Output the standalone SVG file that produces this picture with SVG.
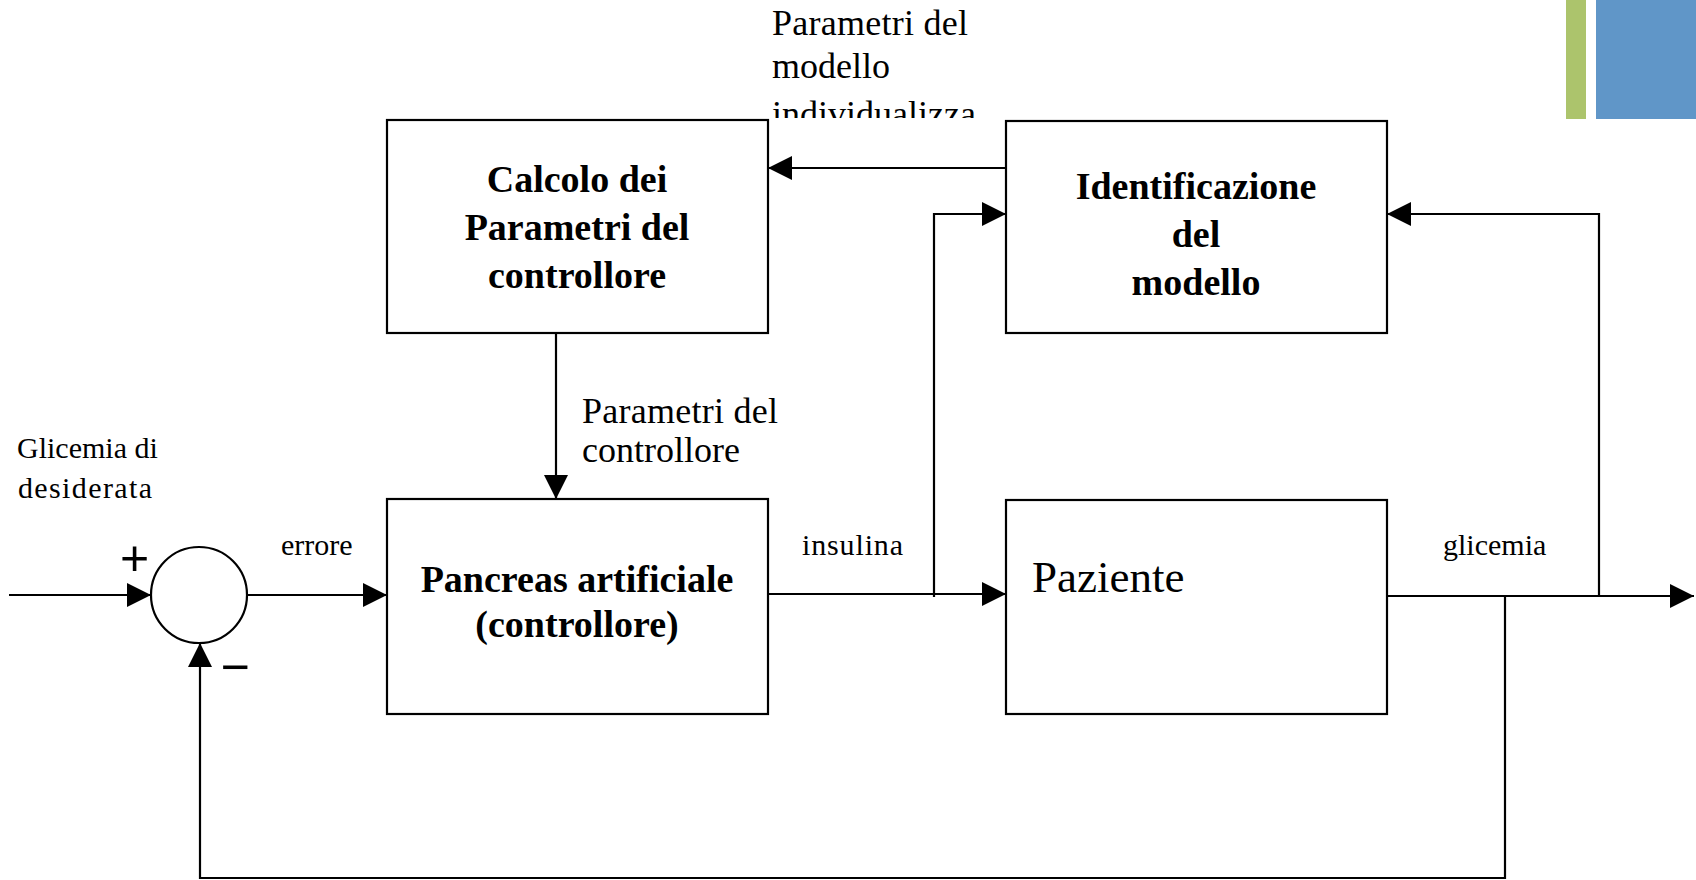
<svg xmlns="http://www.w3.org/2000/svg" width="1696" height="880" viewBox="0 0 1696 880">
<style>
.box{fill:#fff;stroke:#000;stroke-width:2.2}
.ln{fill:none;stroke:#000;stroke-width:2.2}
.t{font-family:"Liberation Serif","Times New Roman",serif;fill:#000}
.s{font-size:30px}
.m{font-size:36px}
.b{font-size:38px;font-weight:bold;text-anchor:middle}
.sg{font-family:"Liberation Sans",Arial,sans-serif;font-size:50px;text-anchor:middle;fill:#000}
</style>
<defs>
<marker id="ah" markerUnits="userSpaceOnUse" markerWidth="24" markerHeight="24" refX="24" refY="12" orient="auto">
<path d="M0,0 L24,12 L0,24 z" fill="#000"/>
</marker>
<clipPath id="topclip"><rect x="700" y="0" width="400" height="118"/></clipPath>
</defs>
<rect x="0" y="0" width="1696" height="880" fill="#fff"/>
<rect x="1566" y="0" width="20" height="119" fill="#acc46c"/>
<rect x="1596" y="0" width="100" height="119" fill="#6096c8"/>

<g id="connectors">
<path class="ln" d="M9,595 H151" marker-end="url(#ah)"/>
<path class="ln" d="M247,595 H387" marker-end="url(#ah)"/>
<path class="ln" d="M1505,596 V878 H200 V643" marker-end="url(#ah)"/>
<path class="ln" d="M768,594 H1006" marker-end="url(#ah)"/>
<path class="ln" d="M934,597 V214 H1006" marker-end="url(#ah)"/>
<path class="ln" d="M1006,168 H768" marker-end="url(#ah)"/>
<path class="ln" d="M1387,596 H1694" marker-end="url(#ah)"/>
<path class="ln" d="M1599,596 V214 H1387" marker-end="url(#ah)"/>
<path class="ln" d="M556,333 V499" marker-end="url(#ah)"/>
</g>

<g id="sum">
<circle cx="199" cy="595" r="48" class="box"/>
<text class="sg" x="134.5" y="575">+</text>
<text class="sg" x="235" y="684">−</text>
</g>

<g id="calcolo">
<rect class="box" x="387" y="120" width="381" height="213"/>
<text class="t b" x="577" y="192">Calcolo dei</text>
<text class="t b" x="577" y="240">Parametri del</text>
<text class="t b" x="577" y="288">controllore</text>
</g>

<g id="identificazione">
<rect class="box" x="1006" y="121" width="381" height="212"/>
<text class="t b" x="1196" y="199">Identificazione</text>
<text class="t b" x="1196" y="247">del</text>
<text class="t b" x="1196" y="295">modello</text>
</g>

<g id="pancreas">
<rect class="box" x="387" y="499" width="381" height="215"/>
<text class="t b" x="577" y="592">Pancreas artificiale</text>
<text class="t b" x="577" y="637">(controllore)</text>
</g>

<g id="paziente">
<rect class="box" x="1006" y="500" width="381" height="214"/>
<text class="t" x="1032" y="592" font-size="45">Paziente</text>
</g>

<g id="labels">
<text class="t s" x="17" y="458">Glicemia di</text>
<text class="t s" x="18" y="498" textLength="134">desiderata</text>
<text class="t s" x="281" y="555">errore</text>
<text class="t s" x="802" y="555" textLength="101">insulina</text>
<text class="t s" x="1443" y="555">glicemia</text>
<text class="t m" x="582" y="423" textLength="196">Parametri del</text>
<text class="t m" x="582" y="462">controllore</text>
<g clip-path="url(#topclip)">
<text class="t m" x="772" y="35" textLength="196">Parametri del</text>
<text class="t m" x="772" y="78">modello</text>
<text class="t m" x="772" y="126">individualizza</text>
</g>
</g>
</svg>
